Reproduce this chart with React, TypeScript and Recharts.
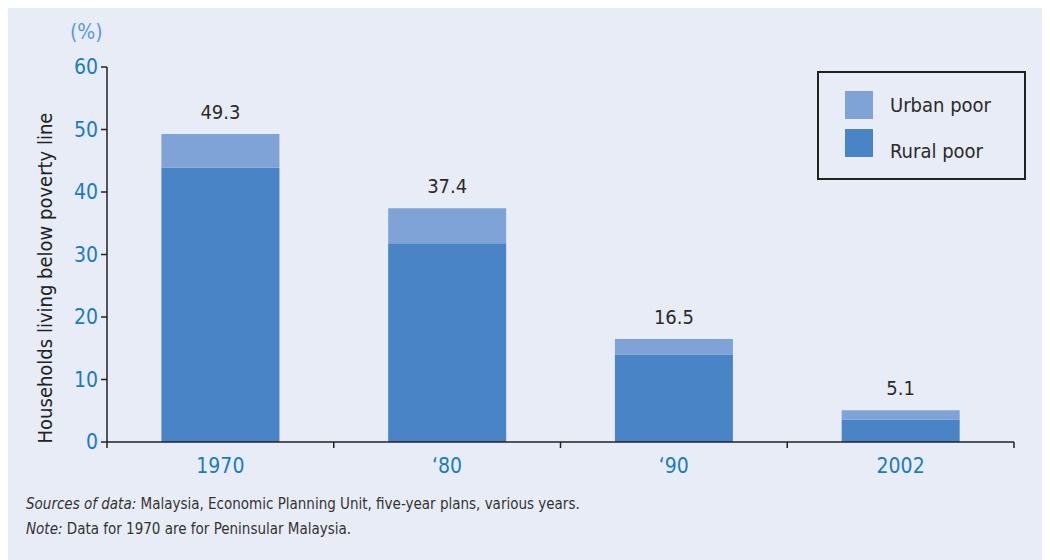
import { BarChart, Bar, XAxis, YAxis, LabelList } from "recharts";

const years = ["1970", "\u201880", "\u201890", "2002"];
const ruralPoor = [43.9, 31.8, 14.0, 3.6];
const urbanPoor = [5.4, 5.6, 2.5, 1.5];
const totals = [49.3, 37.4, 16.5, 5.1];
const yTicks = [0, 10, 20, 30, 40, 50, 60];

const data = years.map((y, i) => ({
    year: y,
    rural: ruralPoor[i],
    urban: urbanPoor[i],
    total: totals[i],
}));

const FONT = "'Liberation Sans Narrow', 'DejaVu Sans Condensed', Roboto, sans-serif";
const BLUE_TEXT = "#1B7BC0";
const RURAL = "#4884C6";
const URBAN = "#7FA3D6";

function XTick(props: any) {
    const { x, y, payload, index, visibleTicksCount } = props;
    const half = payload.offset || 0;
    const last = index === visibleTicksCount - 1;
    return (
        <g>
            <line x1={x - half} x2={x - half} y1={y - 8} y2={y - 2} stroke="#222" strokeWidth={1.5} />
            {last && <line x1={x + half} x2={x + half} y1={y - 8} y2={y - 2} stroke="#222" strokeWidth={1.5} />}
            <text x={x} y={y + 23} textAnchor="middle" fill={BLUE_TEXT} fontSize={21} fontFamily={FONT}>
                {payload.value}
            </text>
        </g>
    );
}

function LegendBox() {
    const items = [
        { label: "Urban poor", color: URBAN },
        { label: "Rural poor", color: RURAL },
    ];
    return (
        <div
            style={{
                position: "absolute",
                left: 809,
                top: 63,
                border: "2px solid #222",
                width: 209,
                height: 109,
                boxSizing: "border-box",
                padding: "13px 0 0 26px",
            }}
        >
            {items.map((it, i) => (
                <div key={it.label} style={{ display: "flex", alignItems: "center", height: 38 }}>
                    <span style={{ width: 28, height: 28, background: it.color, display: "inline-block" }} />
                    <span
                        style={{
                            marginLeft: 17,
                            fontSize: 20,
                            color: "#2a2a2a",
                            position: "relative",
                            top: i === 1 ? 8 : 0,
                        }}
                    >
                        {it.label}
                    </span>
                </div>
            ))}
        </div>
    );
}

export default function App() {
    return (
        <div
            style={{
                position: "relative",
                width: 1042,
                height: 552,
                background: "#E8ECF6",
                fontFamily: FONT,
            }}
        >
            <div style={{ position: "absolute", left: 62, top: 12, fontSize: 21, color: "#5B9BD5" }}>(%)</div>
            <div
                style={{
                    position: "absolute",
                    left: 37,
                    top: 270,
                    transform: "translate(-50%, -50%) rotate(-90deg)",
                    whiteSpace: "nowrap",
                    fontSize: 20,
                    color: "#222",
                }}
            >
                Households living below poverty line
            </div>
            <BarChart
                width={1042}
                height={552}
                data={data}
                margin={{ top: 59, right: 36, left: 0, bottom: 88 }}
                barCategoryGap="24%"
            >
                <XAxis
                    dataKey="year"
                    axisLine={{ stroke: "#222", strokeWidth: 1.5 }}
                    tickLine={false}
                    tick={<XTick />}
                    height={30}
                    interval={0}
                />
                <YAxis
                    domain={[0, 60]}
                    ticks={yTicks}
                    width={99}
                    axisLine={{ stroke: "#222", strokeWidth: 1.5 }}
                    tickLine={{ stroke: "#222", strokeWidth: 1.5 }}
                    tickSize={6}
                    tickMargin={3}
                    tick={{ fill: BLUE_TEXT, fontSize: 21, fontFamily: FONT }}
                />
                <Bar dataKey="rural" stackId="a" fill={RURAL} isAnimationActive={false} />
                <Bar dataKey="urban" stackId="a" fill={URBAN} isAnimationActive={false}>
                    <LabelList dataKey="total" position="top" offset={15} fill="#2a2a2a" fontSize={20} fontFamily={FONT} />
                </Bar>
            </BarChart>
            <LegendBox />
            <div
                style={{
                    position: "absolute",
                    left: 18,
                    top: 484,
                    fontSize: 15,
                    lineHeight: "25px",
                    color: "#333",
                }}
            >
                <div>
                    <i>Sources of data:</i> Malaysia, Economic Planning Unit, five-year plans, various years.
                </div>
                <div>
                    <i>Note:</i> Data for 1970 are for Peninsular Malaysia.
                </div>
            </div>
        </div>
    );
}
